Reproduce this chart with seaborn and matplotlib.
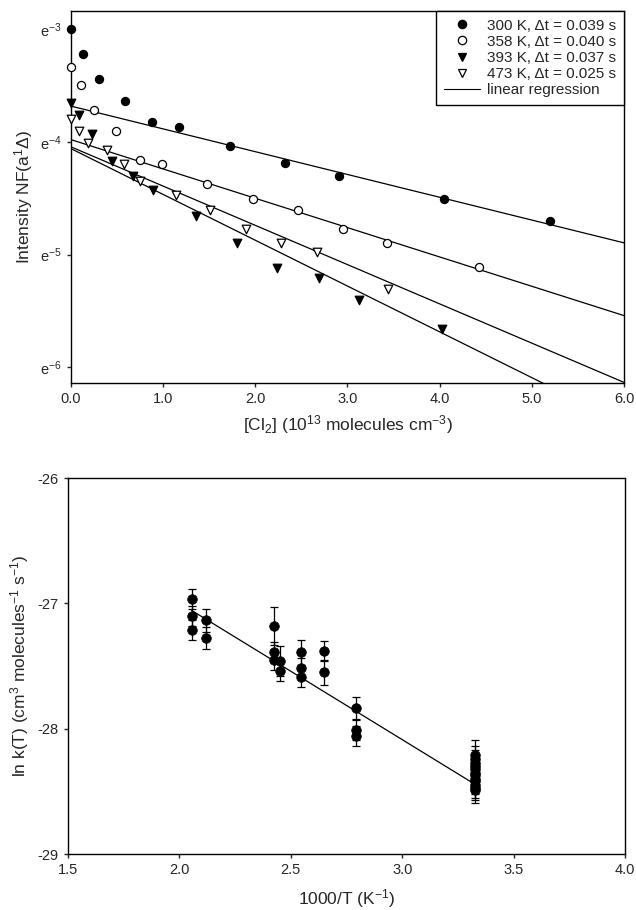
import numpy as np
import pandas as pd
import matplotlib
matplotlib.use("Agg")
import matplotlib.pyplot as plt
from matplotlib.lines import Line2D
from matplotlib.ticker import FixedLocator, FixedFormatter, NullLocator
import seaborn as sns

# ---------------- data: top panel (ln of intensity) ----------------
cl2_300 = [0.0, 0.127, 0.30, 0.585, 0.88, 1.175, 1.73, 2.32, 2.91, 4.05, 5.20]
lnI_300 = [-3.0, -3.222, -3.443, -3.636, -3.828, -3.872, -4.035, -4.188, -4.30, -4.504, -4.70]

cl2_358 = [0.0, 0.105, 0.25, 0.49, 0.75, 0.99, 1.48, 1.97, 2.465, 2.95, 3.43, 4.43]
lnI_358 = [-3.34, -3.494, -3.715, -3.902, -4.159, -4.194, -4.374, -4.507, -4.608, -4.768, -4.892, -5.113]

cl2_393 = [0.0, 0.09, 0.225, 0.45, 0.675, 0.89, 1.355, 1.80, 2.24, 2.69, 3.13, 4.03]
lnI_393 = [-3.656, -3.76, -3.931, -4.168, -4.30, -4.425, -4.661, -4.897, -5.119, -5.207, -5.406, -5.66]

cl2_473 = [0.0, 0.087, 0.19, 0.39, 0.575, 0.75, 1.135, 1.51, 1.895, 2.28, 2.665, 3.435]
lnI_473 = [-3.798, -3.902, -4.011, -4.076, -4.197, -4.345, -4.469, -4.608, -4.773, -4.897, -4.972, -5.30]

series_labels = ["300 K, \u0394t = 0.039 s", "358 K, \u0394t = 0.040 s",
                 "393 K, \u0394t = 0.037 s", "473 K, \u0394t = 0.025 s"]
# regression lines (ln I = a + b [Cl2])
reg_intercepts = [-3.683, -3.98, -4.06, -4.044]
reg_slopes = [-0.202, -0.26, -0.406, -0.348]

top_yticks_ln = [-3, -4, -5, -6]
top_yticklabels = ["e$^{-3}$", "e$^{-4}$", "e$^{-5}$", "e$^{-6}$"]
top_xticks = [0.0, 1.0, 2.0, 3.0, 4.0, 5.0, 6.0]

# ---------------- data: bottom panel ----------------
invT = ([2.055] * 3 + [2.118] * 2 + [2.425] * 3 + [2.452] * 2 + [2.548] * 3 +
        [2.648] * 2 + [2.794] * 3 + [3.329] * 12)
lnk = [-26.968, -27.099, -27.21,
       -27.136, -27.277,
       -27.178, -27.39, -27.45,
       -27.463, -27.543,
       -27.39, -27.516, -27.588,
       -27.383, -27.55,
       -27.835, -28.008, -28.056,
       -28.21, -28.24, -28.27, -28.30, -28.32, -28.35, -28.37, -28.40,
       -28.42, -28.45, -28.47, -28.49]
lnk_err = [0.08, 0.08, 0.08,
           0.09, 0.09,
           0.15, 0.08, 0.08,
           0.12, 0.08,
           0.10, 0.08, 0.08,
           0.08, 0.10,
           0.09, 0.08, 0.08,
           0.12, 0.10, 0.10, 0.10, 0.10, 0.10, 0.10, 0.10,
           0.10, 0.10, 0.10, 0.10]
arr_intercept = -24.814
arr_slope = -1.091
bottom_xticks = [1.5, 2.0, 2.5, 3.0, 3.5, 4.0]
bottom_yticks = [-26, -27, -28, -29]

# ---------------- style ----------------
sns.set_theme(style="ticks")
plt.rcParams["font.family"] = ["Liberation Sans", "DejaVu Sans"]
plt.rcParams["mathtext.fontset"] = "custom"
plt.rcParams["mathtext.rm"] = "Liberation Sans"
plt.rcParams["mathtext.it"] = "Liberation Sans:italic"
plt.rcParams["axes.linewidth"] = 1.0
plt.rcParams["xtick.major.width"] = 1.0
plt.rcParams["ytick.major.width"] = 1.0
plt.rcParams["xtick.major.size"] = 3
plt.rcParams["ytick.major.size"] = 3
plt.rcParams["xtick.labelsize"] = 10.5
plt.rcParams["ytick.labelsize"] = 10.5

LABEL_FS = 12.5

fig = plt.figure(figsize=(6.36, 9.10), dpi=100)
ax1 = fig.add_axes([0.1116, 0.5788, 0.8695, 0.4091])
ax2 = fig.add_axes([0.1069, 0.0615, 0.8758, 0.4131])

# ---------------- top panel ----------------
styles = [
    dict(marker="o", facecolor="black", edgecolor="black", s=34),
    dict(marker="o", facecolor="white", edgecolor="black", s=34),
    dict(marker="v", facecolor="black", edgecolor="black", s=38),
    dict(marker="v", facecolor="white", edgecolor="black", s=38),
]
xs = [cl2_300, cl2_358, cl2_393, cl2_473]
ys = [lnI_300, lnI_358, lnI_393, lnI_473]

xline = np.array([top_xticks[0], top_xticks[-1]])
for a, b in zip(reg_intercepts, reg_slopes):
    df_l = pd.DataFrame({"x": xline, "y": np.exp(a + b * xline)})
    sns.lineplot(data=df_l, x="x", y="y", ax=ax1, color="black", lw=0.9,
                 estimator=None, sort=False, zorder=2)

for x, y, st in zip(xs, ys, styles):
    df = pd.DataFrame({"x": x, "y": np.exp(np.array(y))})
    sns.scatterplot(data=df, x="x", y="y", ax=ax1, marker=st["marker"],
                    s=st["s"], color=st["facecolor"], edgecolor=st["edgecolor"],
                    linewidth=0.9, zorder=3, clip_on=False)

ax1.set_yscale("log", base=np.e)
ax1.set_xlim(0, 6)
ax1.set_ylim(np.exp(-6.14), np.exp(-2.84))
ax1.yaxis.set_major_locator(FixedLocator([np.exp(v) for v in top_yticks_ln]))
ax1.yaxis.set_major_formatter(FixedFormatter(top_yticklabels))
ax1.yaxis.set_minor_locator(NullLocator())
ax1.set_xticks(top_xticks)
ax1.set_xticklabels([f"{v:.1f}" for v in top_xticks])
ax1.set_xlabel("[Cl$_2$] (10$^{13}$ molecules cm$^{-3}$)", fontsize=LABEL_FS, labelpad=5)
ax1.set_ylabel("Intensity NF(a$^1\\Delta$)", fontsize=LABEL_FS, labelpad=4)
for sp in ax1.spines.values():
    sp.set_visible(True)
    sp.set_color("black")

handles = [Line2D([], [], linestyle="none", marker=st["marker"], markersize=6,
                  markerfacecolor=st["facecolor"], markeredgecolor="black",
                  markeredgewidth=0.9) for st in styles]
handles.append(Line2D([], [], color="black", lw=0.8))
labels = series_labels + ["linear regression"]
leg = ax1.legend(handles, labels, loc="upper right", fontsize=11,
                 frameon=True, fancybox=False, framealpha=1, edgecolor="black",
                 borderaxespad=0, handlelength=2.4, handletextpad=0.45,
                 labelspacing=0.14, borderpad=0.5)
leg.get_frame().set_linewidth(1.0)

# ---------------- bottom panel ----------------
ax2.errorbar(invT, lnk, yerr=lnk_err, fmt="none", ecolor="black",
             elinewidth=0.9, capsize=2.6, capthick=0.9, zorder=2)
xl = np.array([min(invT), max(invT)])
df_a = pd.DataFrame({"x": xl, "y": arr_intercept + arr_slope * xl})
sns.lineplot(data=df_a, x="x", y="y", ax=ax2, color="black", lw=0.9,
             estimator=None, sort=False, zorder=3)
df_b = pd.DataFrame({"x": invT, "y": lnk})
sns.scatterplot(data=df_b, x="x", y="y", ax=ax2, marker="o", s=48,
                color="black", edgecolor="black", linewidth=0.5, zorder=4)

ax2.set_xlim(1.5, 4.0)
ax2.set_ylim(-29, -26)
ax2.set_xticks(bottom_xticks)
ax2.set_xticklabels([f"{v:.1f}" for v in bottom_xticks])
ax2.set_yticks(bottom_yticks)
ax2.set_yticklabels([str(v) for v in bottom_yticks])
ax2.set_xlabel("1000/T (K$^{-1}$)", fontsize=LABEL_FS, labelpad=7)
ax2.set_ylabel("ln k(T) (cm$^3$ molecules$^{-1}$ s$^{-1}$)", fontsize=LABEL_FS, labelpad=5)
for sp in ax2.spines.values():
    sp.set_visible(True)
    sp.set_color("black")

fig.savefig("out.png", dpi=100)
